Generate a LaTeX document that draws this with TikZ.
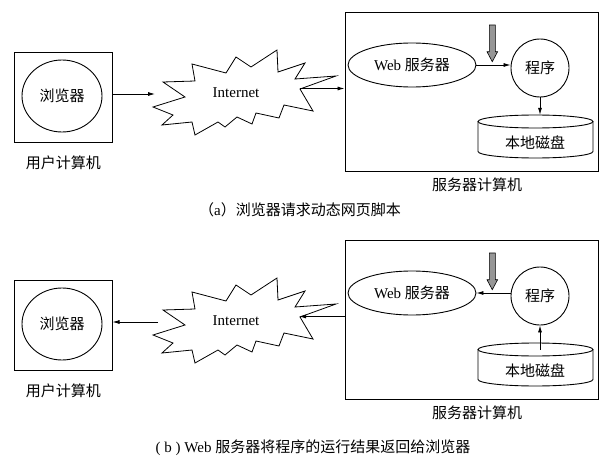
\documentclass[tikz,border=0pt]{standalone}
\usepackage{fontspec}
\setmainfont{Liberation Serif}
\newfontfamily\cjkfont{Noto Sans CJK SC}
\newcommand\zhs[1]{{\cjkfont #1}}
\usetikzlibrary{arrows.meta,shapes.geometric}
\definecolor{arrowgray}{RGB}{150,150,150}
\newcommand\starpath{(192,64) -- (226,73) -- (236,57) -- (251,67) -- (277,50) -- (278,72) -- (305,63) -- (295,79) -- (336,76) -- (300,89) -- (313,111) -- (284,105) -- (279,118) -- (256,113) -- (252,124) -- (237,117) -- (225,127) -- (218,122) -- (195,135) -- (192,122) -- (162,125) -- (173,115) -- (153,107) -- (185,97) -- (163,82) -- (195,81) -- cycle}
\newcommand\grayarrowpath{(489.3,25) -- (495.3,25) -- (495.3,51.7) -- (497.6,51.7) -- (492.3,61.7) -- (487,51.7) -- (489.3,51.7) -- cycle}
\begin{document}
\begin{tikzpicture}[x=1pt,y=-1pt,
  every node/.style={font=\fontsize{15}{18}\selectfont, inner sep=0pt},
  arr/.style={line width=0.8pt,-{Latex[length=7pt,width=4pt]}},
  box/.style={draw,line width=1pt,rectangle},
  oval/.style={draw,line width=0.9pt,ellipse},
  roundnode/.style={draw,line width=0.9pt,circle},
  cloudline/.style={draw,line width=0.8pt,line join=miter,fill=white},
  grayarrow/.style={draw,line width=0.6pt,fill=arrowgray},
  disk/.style={line width=0.9pt},
]
\useasboundingbox (0,0) rectangle (606,463);

% ================= panel (a) =================
\node[box,minimum width=98pt,minimum height=90pt] (usera) at (63,97) {};
\node[oval,minimum width=80pt,minimum height=72pt] (browsera) at (62,96) {\zhs{浏览器}};
\node (useralabel) at (63.5,163) {\zhs{用户计算机}};

\draw[cloudline] \starpath;
\node (neta) at (236,93) {Internet};
\coordinate (netaL) at (155,94);
\coordinate (netaR) at (300,88.5);

\node[box,minimum width=253pt,minimum height=159pt] (servera) at (471.5,91.5) {};
\node (serveralabel) at (477,185) {\zhs{服务器计算机}};
\node[oval,minimum width=128pt,minimum height=44pt] (weba) at (412,65) {Web \zhs{服务器}};
\node[roundnode,minimum size=58pt] (proga) at (540,68) {\zhs{程序}};
\draw[grayarrow] \grayarrowpath;

\node[minimum width=115pt,minimum height=43pt] (diska) at (535.5,136.5) {};
\draw[disk] (535.5,121.5) ellipse[x radius=57.5pt,y radius=6.5pt];
\draw[disk] (478,121.5) -- (478,151.5) arc[start angle=180,end angle=360,x radius=57.5pt,y radius=6.5pt] -- (593,121.5);
\node (diskalabel) at (535,143) {\zhs{本地磁盘}};

\draw[arr] (usera.east |- netaL) -- (netaL);
\draw[arr] (netaR) -- (netaR -| servera.west);
\draw[arr] (weba.east) -- (weba.east -| proga.west);
\draw[arr] (proga.south) -- (proga.south |- diska.north);

\node (captiona) at (300,210) {\zhs{（}a\zhs{）浏览器请求动态网页脚本}};

% ================= panel (b) =================
\begin{scope}[shift={(0,228)}]
\node[box,minimum width=98pt,minimum height=90pt] (userb) at (63,97) {};
\node[oval,minimum width=80pt,minimum height=72pt] (browserb) at (62,96) {\zhs{浏览器}};
\node (userblabel) at (63.5,163) {\zhs{用户计算机}};

\draw[cloudline] \starpath;
\node (netb) at (236,93) {Internet};
\coordinate (netbL) at (158,94);
\coordinate (netbR) at (299,88.5);

\node[box,minimum width=253pt,minimum height=159pt] (serverb) at (471.5,91.5) {};
\node (serverblabel) at (477,185) {\zhs{服务器计算机}};
\node[oval,minimum width=128pt,minimum height=44pt] (webb) at (412,65) {Web \zhs{服务器}};
\node[roundnode,minimum size=58pt] (progb) at (540,68) {\zhs{程序}};
\draw[grayarrow] \grayarrowpath;

\node[minimum width=115pt,minimum height=43pt] (diskb) at (535.5,136.5) {};
\coordinate (diskbtop) at (535.5,121.5);
\draw[disk] (535.5,121.5) ellipse[x radius=57.5pt,y radius=6.5pt];
\draw[disk] (478,121.5) -- (478,151.5) arc[start angle=180,end angle=360,x radius=57.5pt,y radius=6.5pt] -- (593,121.5);
\node (diskblabel) at (535,143) {\zhs{本地磁盘}};

\draw[arr] (netbL) -- (netbL -| userb.east);
\draw[arr] (netbR -| serverb.west) -- (netbR);
\draw[arr] (webb.east -| progb.west) -- (webb.east);
\draw[arr] (progb.south |- diskbtop) -- (progb.south);

\node (captionb) at (313,220) {( b ) Web \zhs{服务器将程序的运行结果返回给浏览器}};
\end{scope}
\end{tikzpicture}
\end{document}
